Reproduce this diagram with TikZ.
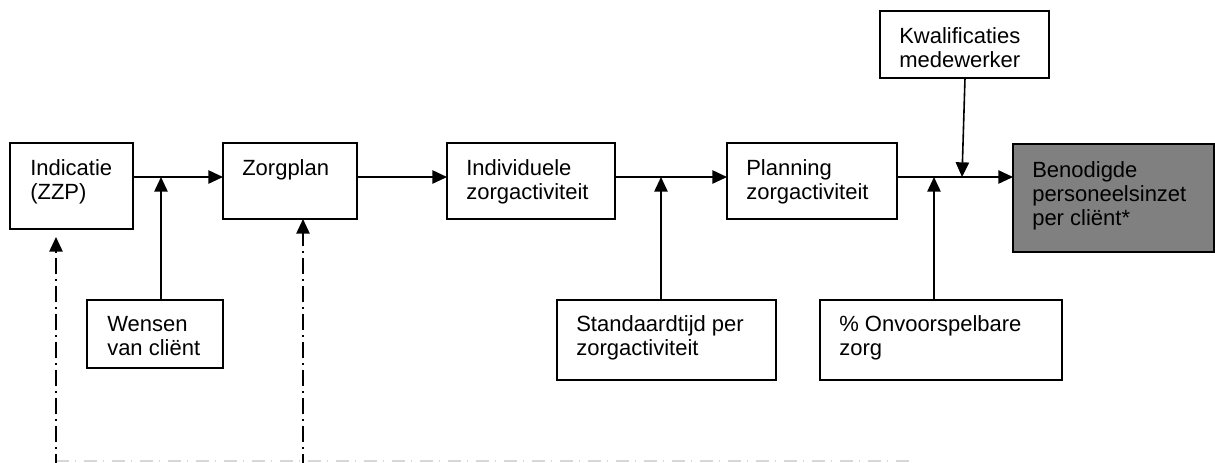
\documentclass[tikz,border=0pt]{standalone}
\usepackage{fontspec}
\setmainfont{Liberation Sans}
\usetikzlibrary{arrows.meta}
\begin{document}
\begin{tikzpicture}[x=0.75pt,y=-0.75pt,
  box/.style={draw=black,line width=1.3pt,anchor=north west,inner sep=0pt,outer sep=0pt},
  txt/.style={anchor=base west,inner sep=0pt,align=left,font=\fontsize{16.5pt}{18pt}\selectfont},
  conn/.style={line width=1.2pt,-{Triangle[length=11pt,width=10pt]}},
  ddash/.style={line width=1.2pt,dash pattern=on 12pt off 3.8pt on 1.1pt off 4.1pt,-{Triangle[length=11pt,width=10pt]}},
  greyline/.style={line width=1.6pt,draw={rgb,255:red,215;green,215;blue,215},dash pattern=on 10pt off 4pt on 1pt off 6pt}
]
\useasboundingbox (0,0) rectangle (1215,462);
\begin{scope}
\clip (0,0) rectangle (1215,462);
% boxes
\node[box,minimum width=123*0.75pt,minimum height=86*0.75pt] (ind) at (10,143) {};
\node[box,minimum width=134*0.75pt,minimum height=76*0.75pt] (zorg) at (223,143) {};
\node[box,minimum width=168*0.75pt,minimum height=76*0.75pt] (indiv) at (447,143) {};
\node[box,minimum width=170*0.75pt,minimum height=76*0.75pt] (plan) at (727,143) {};
\node[box,fill={rgb,255:red,128;green,128;blue,128},minimum width=201*0.75pt,minimum height=108*0.75pt] (ben) at (1013,144) {};
\node[box,minimum width=169*0.75pt,minimum height=67*0.75pt] (kwal) at (880,11) {};
\node[box,minimum width=136*0.75pt,minimum height=68*0.75pt] (wens) at (87,300) {};
\node[box,minimum width=219*0.75pt,minimum height=80*0.75pt] (std) at (557,300) {};
\node[box,minimum width=242*0.75pt,minimum height=80*0.75pt] (onv) at (820,300) {};
% texts (anchor = baseline of last line)
\node[txt] (tind) at (30,199) {Indicatie\\(ZZP)};
\node[txt] (tzorg) at (242,175) {Zorgplan};
\node[txt] (tindiv) at (466,199) {Individuele\\zorgactiviteit};
\node[txt] (tplan) at (746,199) {Planning\\zorgactiviteit};
\node[txt] (tben) at (1032,225) {Benodigde\\personeelsinzet\\per cliënt*};
\node[txt] (tkwal) at (899,67) {Kwalificaties\\medewerker};
\node[txt] (twens) at (107,355) {Wensen\\van cliënt};
\node[txt] (tstd) at (576,355) {Standaardtijd per\\zorgactiviteit};
\node[txt] (tonv) at (839,355) {\% Onvoorspelbare\\zorg};
% junction coordinates
\coordinate (j1) at (161,177);
\coordinate (j2) at (661,177);
\coordinate (j3) at (934,177);
\coordinate (j4) at (962,177);
\coordinate (kwtop) at (965,78);
\coordinate (d1b) at (56,470);
\coordinate (d1t) at (56,237);
\coordinate (d2b) at (303,470);
\coordinate (g1) at (56,461);
\coordinate (g2) at (910,461);
% main flow
\draw[conn] (ind.east |- j1) -- (zorg.west |- j1);
\draw[conn] (zorg.east |- j1) -- (indiv.west |- j1);
\draw[conn] (indiv.east |- j1) -- (plan.west |- j1);
\draw[conn] (plan.east |- j1) -- (ben.west |- j1);
% side inputs
\draw[conn] (wens.north -| j1) -- (j1);
\draw[conn] (std.north -| j2) -- (j2);
\draw[conn] (onv.north -| j3) -- (j3);
\draw[conn] (kwtop) -- (j4);
% grey bottom line
\draw[greyline] (g1) -- (g2);
% dash-dot feedback
\draw[ddash] (d1b) -- (d1t);
\draw[ddash] (d2b) -- (zorg.south -| d2b);
\end{scope}
\end{tikzpicture}
\end{document}
